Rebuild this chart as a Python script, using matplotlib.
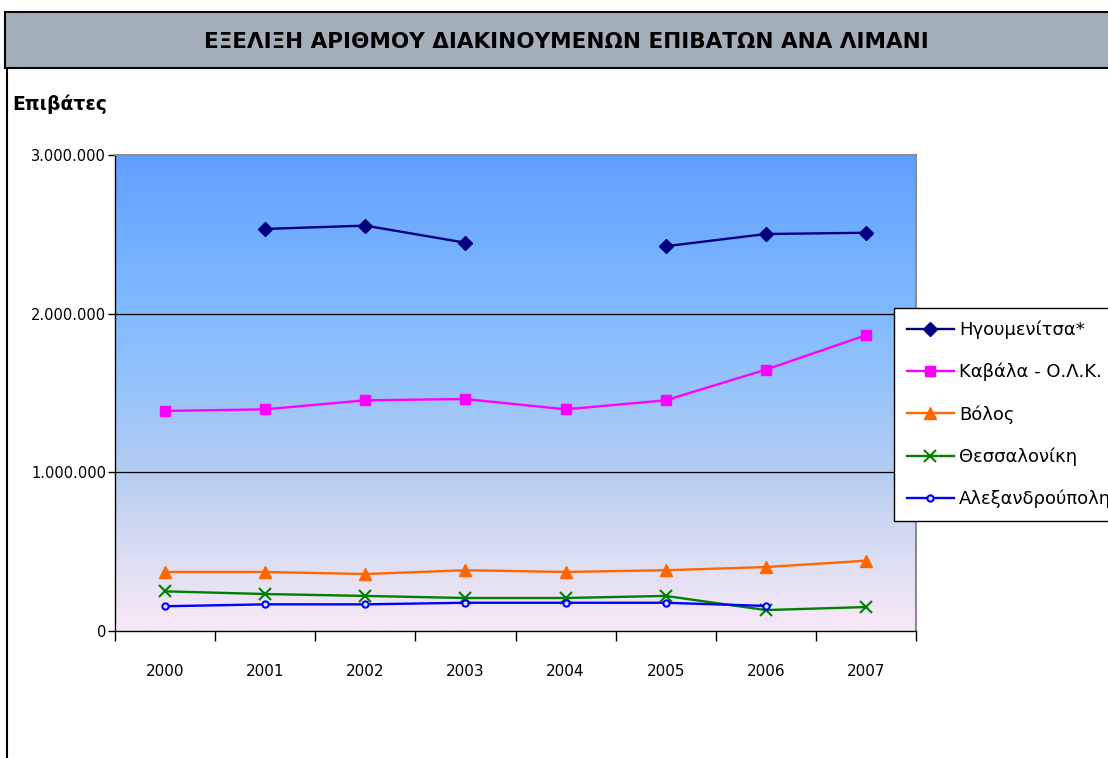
import numpy as np
import matplotlib
matplotlib.use("Agg")
import matplotlib.pyplot as plt
from matplotlib.colors import LinearSegmentedColormap
from matplotlib.patches import Rectangle
from matplotlib.lines import Line2D
from matplotlib.ticker import FuncFormatter, FixedLocator

plt.rcParams['font.family'] = ['DejaVu Sans']

years = ["2000", "2001", "2002", "2003", "2004", "2005", "2006", "2007"]
igoumenitsa = [np.nan, 2534000, 2555000, 2447000, np.nan, 2425000, 2502000, 2510000]
kavala = [1387000, 1397000, 1454000, 1462000, 1397000, 1454000, 1647000, 1864000]
volos = [372000, 372000, 359000, 383000, 372000, 383000, 403000, 443000]
thessaloniki = [250000, 233000, 221000, 208000, 208000, 221000, 132000, 151000]
alexandroupoli = [156000, 168000, 168000, 178000, 178000, 178000, 158000, np.nan]

labels = ["Ηγουμενίτσα*", "Καβάλα - Ο.Λ.Κ.", "Βόλος", "Θεσσαλονίκη", "Αλεξανδρούπολη"]
series = [igoumenitsa, kavala, volos, thessaloniki, alexandroupoli]
colors = ["#000080", "#FF00FF", "#FF6600", "#008000", "#0000FF"]
markers = ["D", "s", "^", "x", "o"]
msizes = [7, 7, 9, 9, 4.5]

W, H = 1108, 758
fig = plt.figure(figsize=(W / 100, H / 100), dpi=100)
fig.patch.set_facecolor("white")

# title bar
fig.patches.append(Rectangle((5 / W, 1 - 68 / H), 1.2, 56 / H, transform=fig.transFigure,
                             facecolor="#A2AFBA", edgecolor="black", linewidth=1.5, zorder=0))
fig.lines.append(Line2D([7 / W, 7 / W], [0, 1 - 68 / H], transform=fig.transFigure,
                        color="black", linewidth=1.5))
fig.text(566 / W, 1 - 42 / H, "ΕΞΕΛΙΞΗ ΑΡΙΘΜΟΥ ΔΙΑΚΙΝΟΥΜΕΝΩΝ ΕΠΙΒΑΤΩΝ ΑΝΑ ΛΙΜΑΝΙ",
         ha="center", va="center", fontsize=15.5, fontweight="bold", color="black")
fig.text(12 / W, 1 - 104 / H, "Επιβάτες", ha="left", va="center", fontsize=13.5,
         fontweight="bold")

ax = fig.add_axes([115 / W, 1 - 631 / H, 801 / W, 476 / H])

# gradient background
stops = [(0.0, "#FAE8F8"), (0.15, "#DCDEF2"), (0.33, "#B6CDF1"), (0.5, "#98C4FA"),
         (0.67, "#80BBFF"), (1.0, "#62A0FF")]
cmap = LinearSegmentedColormap.from_list("bg", stops)
grad = np.linspace(0, 1, 256).reshape(-1, 1)
ax.imshow(grad, cmap=cmap, aspect="auto", origin="lower", extent=[0, 1, 0, 1],
          transform=ax.transAxes, zorder=0)

yticks = [0, 1000000, 2000000, 3000000]
for yv in yticks[1:-1]:
    ax.axhline(yv, color="black", linewidth=0.9, zorder=1)

x = np.arange(len(years))
for vals, lab, c, m, ms in zip(series, labels, colors, markers, msizes):
    kw = dict(color=c, marker=m, markersize=ms, linewidth=1.7, label=lab, zorder=3)
    if m == "x":
        kw.update(markeredgewidth=1.5)
    if m == "o":
        kw.update(markerfacecolor="#DDE4FF", markeredgewidth=1.5)
    ax.plot(x, vals, **kw)

ax.set_xlim(-0.5, 7.5)
ax.set_ylim(0, 3000000)
ax.set_yticks(yticks)
ax.yaxis.set_major_formatter(FuncFormatter(lambda v, p: f"{int(v):,}".replace(",", ".")))
ax.set_xticks(x)
ax.set_xticklabels(years)
ax.xaxis.set_minor_locator(FixedLocator(np.arange(-0.5, 8, 1)))
ax.tick_params(axis="x", which="major", length=0, pad=24, labelsize=11)
ax.tick_params(axis="x", which="minor", length=7, width=1, direction="out")
ax.tick_params(axis="y", length=5, width=1, direction="out", labelsize=10.5, pad=1.5)
for s in ["top", "right"]:
    ax.spines[s].set_color("#8C8C8C")
    ax.spines[s].set_linewidth(1.5)
for s in ["left", "bottom"]:
    ax.spines[s].set_color("black")
    ax.spines[s].set_linewidth(1)

handles, labs = ax.get_legend_handles_labels()
leg = fig.legend(handles, labs, loc="upper left", bbox_to_anchor=(894 / W, 1 - 308 / H),
                 bbox_transform=fig.transFigure, borderaxespad=0, frameon=True,
                 fancybox=False, shadow=False, fontsize=13, labelspacing=1.32,
                 handlelength=2.6, handletextpad=0.3, borderpad=0.7)
leg.get_frame().set_edgecolor("black")
leg.get_frame().set_linewidth(1)
leg.get_frame().set_facecolor("white")
leg.get_frame().set_alpha(1)

fig.savefig("out.png", dpi=100)
